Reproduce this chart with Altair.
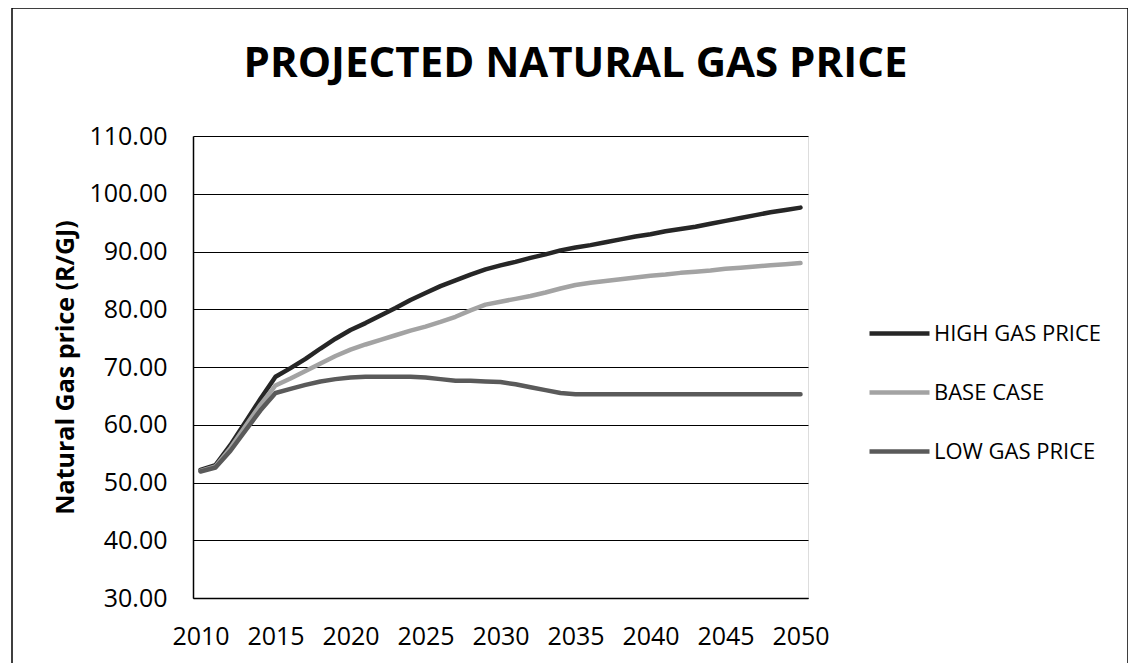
import altair as alt
import pandas as pd

years = list(range(2010, 2051))

high_gas = [52.2, 53.0, 56.5, 60.5, 64.5, 68.3, 69.8, 71.4, 73.2, 74.9,
            76.4, 77.6, 78.9, 80.2, 81.6, 82.8, 84.0, 85.0, 86.0, 86.9,
            87.6, 88.2, 88.9, 89.5, 90.2, 90.7, 91.1, 91.6, 92.1, 92.6,
            93.0, 93.5, 93.9, 94.3, 94.8, 95.3, 95.8, 96.3, 96.8, 97.2, 97.6]
base_case = [52.0, 52.8, 56.0, 59.8, 63.5, 66.8, 68.0, 69.3, 70.6, 71.9,
             73.0, 73.9, 74.7, 75.5, 76.3, 77.0, 77.8, 78.7, 79.8, 80.8,
             81.3, 81.8, 82.3, 82.9, 83.6, 84.2, 84.6, 84.9, 85.2, 85.5,
             85.8, 86.0, 86.3, 86.5, 86.7, 87.0, 87.2, 87.4, 87.6, 87.8, 88.0]
low_gas = [51.9, 52.6, 55.5, 59.0, 62.5, 65.5, 66.2, 66.9, 67.5, 67.9,
           68.2, 68.3, 68.3, 68.3, 68.3, 68.2, 67.9, 67.6, 67.6, 67.5,
           67.4, 67.0, 66.5, 66.0, 65.5, 65.3, 65.3, 65.3, 65.3, 65.3,
           65.3, 65.3, 65.3, 65.3, 65.3, 65.3, 65.3, 65.3, 65.3, 65.3, 65.3]

series_names = ["HIGH GAS PRICE", "BASE CASE", "LOW GAS PRICE"]
series_colors = ["#262626", "#a3a3a3", "#5a5a5a"]
x_ticks = [2010, 2015, 2020, 2025, 2030, 2035, 2040, 2045, 2050]
y_ticks = [30, 40, 50, 60, 70, 80, 90, 100, 110]

rows = []
for name, vals in zip(series_names, [high_gas, base_case, low_gas]):
    for yr, v in zip(years, vals):
        rows.append({"year": yr, "price": v, "series": name})
df = pd.DataFrame(rows)

FONT = "Open Sans"

lines = alt.Chart(df).mark_line(strokeWidth=4.5, strokeCap="round", strokeJoin="round").encode(
    x=alt.X("year:Q",
            scale=alt.Scale(domain=[2009.5, 2050.5], nice=False, zero=False),
            axis=alt.Axis(values=x_ticks, format="d", title=None, grid=False,
                          ticks=False, labelFontSize=25, labelFont=FONT,
                          labelColor="#000", labelPadding=26,
                          domainColor="#000", domainWidth=1.5)),
    y=alt.Y("price:Q",
            scale=alt.Scale(domain=[30, 110], nice=False, zero=False),
            axis=alt.Axis(values=y_ticks, format=".2f",
                          title="Natural Gas price (R/GJ)",
                          titleFont=FONT, titleFontSize=25, titleFontWeight="bold",
                          titleColor="#000", titleX=-128, titleY=231,
                          titleAngle=-90, titleAlign="center", titleBaseline="middle",
                          ticks=False, labelFontSize=25, labelFont=FONT,
                          labelColor="#000", labelPadding=26,
                          grid=True, gridColor="#000", gridWidth=1.2,
                          domainColor="#000", domainWidth=1.5)),
    color=alt.Color("series:N",
                    scale=alt.Scale(domain=series_names, range=series_colors),
                    sort=series_names,
                    legend=alt.Legend(title=None, orient="none", legendX=674, legendY=165,
                                      symbolType="stroke", symbolSize=3600,
                                      symbolStrokeWidth=4.5, labelFontSize=22,
                                      labelFont=FONT, labelColor="#000",
                                      labelLimit=0, labelOffset=2, rowPadding=15)),
)

frame = alt.Chart(pd.DataFrame({"a": [0]})).mark_rect(
    fill=None, stroke="#000", strokeWidth=1.5
).encode(
    x=alt.value(-181), x2=alt.value(935), y=alt.value(-128), y2=alt.value(528)
)

chart = alt.layer(frame, lines).properties(
    width=615,
    height=462,
    title=alt.TitleParams("PROJECTED NATURAL GAS PRICE", font=FONT, fontSize=42,
                          fontWeight="bold", color="#000", anchor="middle",
                          dx=75, offset=-79),
    autosize=alt.AutoSizeParams(type="none"),
    padding={"left": 185, "top": 128, "right": 320, "bottom": 65},
).configure_view(stroke=None).configure(background="white")

chart.save("out.html", embed_options={"renderer": "svg", "actions": False})
